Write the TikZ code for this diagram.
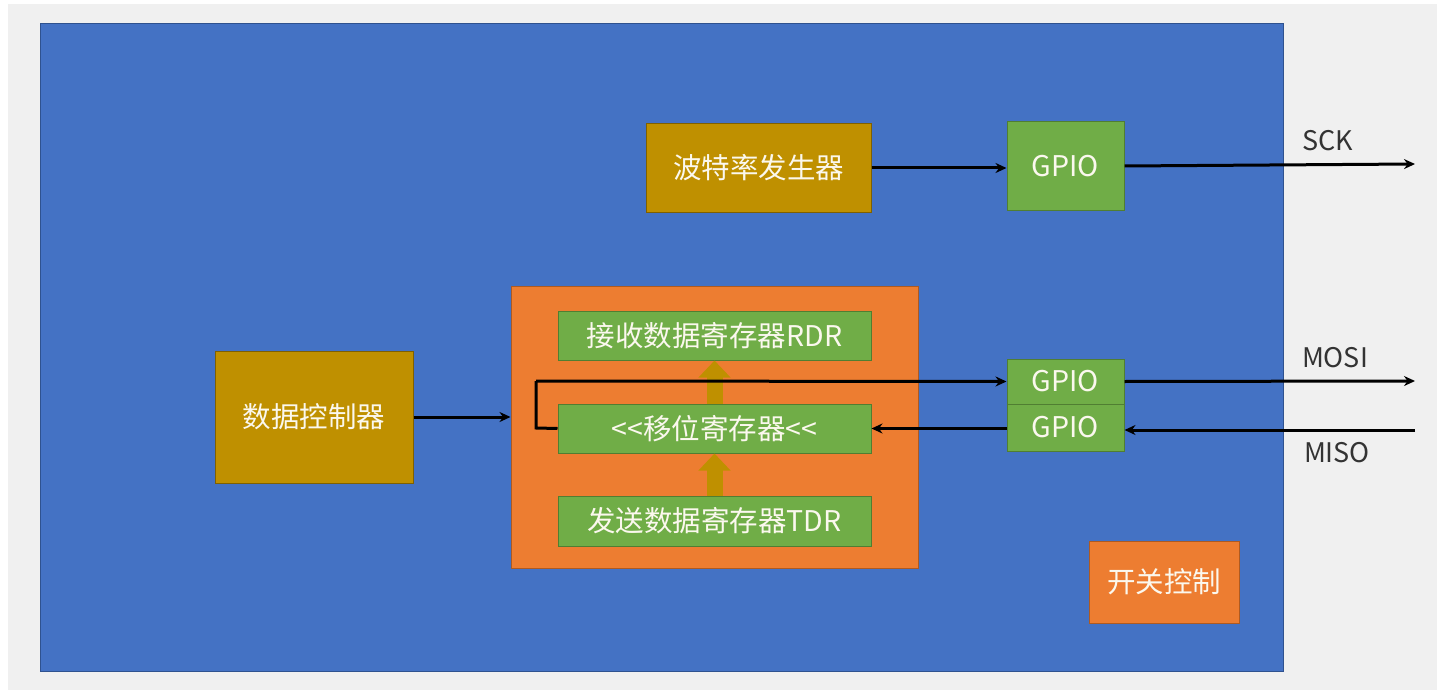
\documentclass[tikz,border=0pt]{standalone}
\usepackage{fontspec}
\setmainfont{Noto Sans CJK SC}
\usetikzlibrary{arrows.meta,calc}
\definecolor{bgray}{HTML}{F0F0F0}
\definecolor{pblue}{HTML}{4472C4}
\definecolor{pblueD}{HTML}{2F528F}
\definecolor{pgold}{HTML}{BF9000}
\definecolor{pgoldD}{HTML}{7F6000}
\definecolor{pgreen}{HTML}{70AD47}
\definecolor{pgreenD}{HTML}{507E32}
\definecolor{porange}{HTML}{ED7D31}
\definecolor{porangeD}{HTML}{AE5A21}
\definecolor{ptext}{HTML}{FBF8EE}
\tikzset{
  boxbase/.style={rectangle, inner sep=0pt, line width=1pt, text=ptext,
    font=\fontsize{28.5}{32}\selectfont},
  goldbox/.style={boxbase, fill=pgold, draw=pgoldD},
  greenbox/.style={boxbase, fill=pgreen, draw=pgreenD},
  orangebox/.style={boxbase, fill=porange, draw=porangeD},
  conn/.style={draw=black, line width=3pt, -{Stealth[length=11pt,width=10pt]}},
  wire/.style={draw=black, line width=3pt},
  fat/.style={draw=pgold, line width=16pt, -{Triangle[length=17pt,width=31pt]}},
  sig/.style={text=black!80, font=\fontsize{27}{30}\selectfont, inner sep=0pt}
}
\begin{document}
\begin{tikzpicture}[x=1pt,y=-1pt]
\useasboundingbox (0,0) rectangle (1446,698);
\fill[white] (0,0) rectangle (1446,698);
\fill[bgray] (8,4) rectangle (1437,690);
\filldraw[fill=pblue, draw=pblueD, line width=1pt] (40,24) rectangle (1283,671);

\node[goldbox, minimum width=225pt, minimum height=88pt] (baud) at (758.5,168) {波特率发生器};
\node[greenbox, minimum width=117pt, minimum height=88pt] (gpio1) at (1065.5,166) {GPIO};
\node[goldbox, minimum width=198pt, minimum height=132pt] (dctl) at (314,417) {数据控制器};
\node[orangebox, minimum width=407pt, minimum height=282pt] (spi) at (714.5,427) {};
\node[greenbox, minimum width=313pt, minimum height=49pt] (rdr) at (714.5,335.5) {接收数据寄存器RDR};
\node[greenbox, minimum width=313pt, minimum height=49pt] (shift) at (714.5,428.5) {<{}<移位寄存器<{}<};
\node[greenbox, minimum width=313pt, minimum height=50pt] (tdr) at (714.5,521) {发送数据寄存器TDR};
\node[greenbox, minimum width=117pt, minimum height=45pt] (mosi) at (1065.5,381.5) {GPIO};
\node[greenbox, minimum width=117pt, minimum height=47pt] (miso) at (1065.5,427.5) {GPIO};
\node[orangebox, minimum width=150pt, minimum height=82pt] (sw) at (1164,582) {开关控制};

\coordinate (sckend) at (1415,164);
\coordinate (mosiend) at (1415,381);
\coordinate (misoin) at (1415,430);
\coordinate (loopA) at (536,428);
\coordinate (loopB) at (536,381);

\node[sig] (lsck) at (1328,141) {SCK};
\node[sig] (lmosi) at (1335,358) {MOSI};
\node[sig] (lmiso) at (1337,453) {MISO};

\draw[conn] (baud.east) -- (gpio1.west |- baud.east);
\draw[conn] (gpio1.east) -- (sckend);
\draw[conn] (dctl.east) -- (spi.west |- dctl.east);
\draw[fat] (tdr.north) -- (shift.south);
\draw[fat] (shift.north) -- (rdr.south);
\draw[wire] (shift.west) -- (loopA) -- (loopB);
\draw[conn] (loopB) -- (mosi.west);
\draw[conn] (mosi.east) -- (mosiend);
\draw[conn] (misoin) -- (miso.east |- misoin);
\draw[conn] (miso.west |- shift.east) -- (shift.east);
\end{tikzpicture}
\end{document}
